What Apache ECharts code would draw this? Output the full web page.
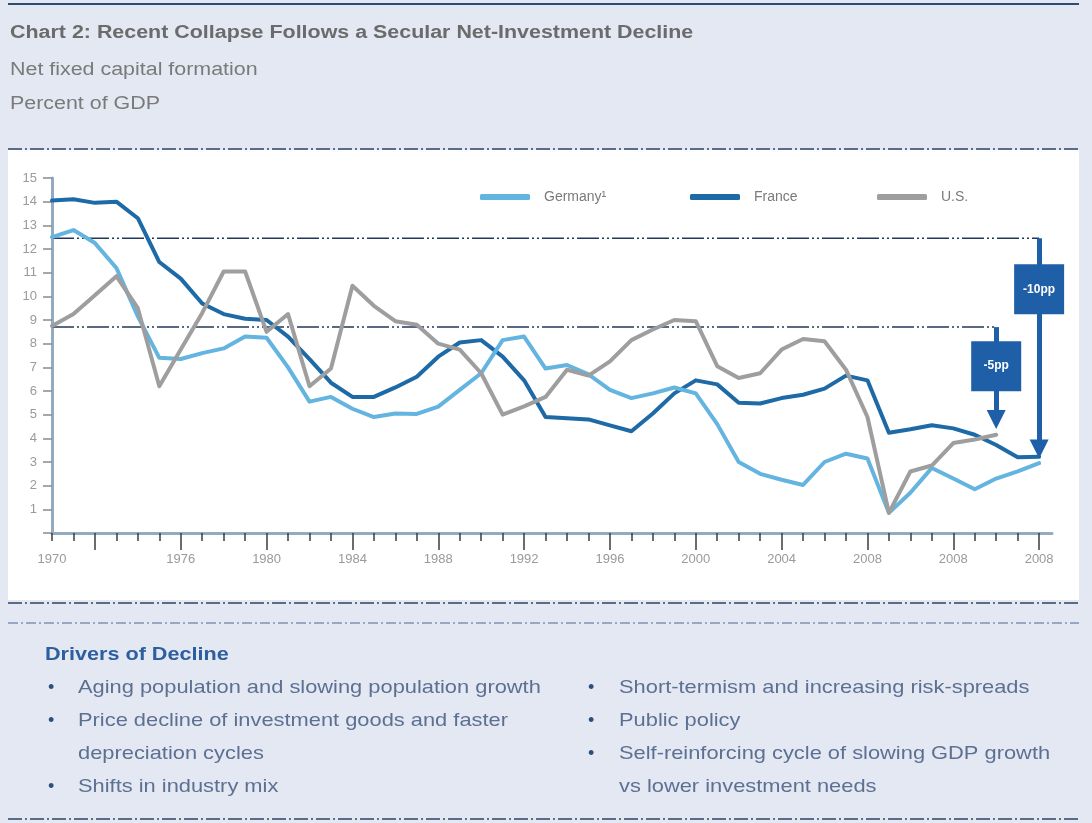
<!DOCTYPE html>
<html>
<head>
<meta charset="utf-8">
<script src="https://cdn.jsdelivr.net/npm/echarts/dist/echarts.min.js"></script>
<style>
html,body{margin:0;padding:0;background:#e4e8f3;}
#chart{width:1092px;height:823px;}
</style>
</head>
<body>
<div id="chart"></div>
<script>
// ---------- data ----------
const years = [1970,1971,1972,1973,1974,1975,1976,1977,1978,1979,
               1980,1981,1982,1983,1984,1985,1986,1987,1988,1989,
               1990,1991,1992,1993,1994,1995,1996,1997,1998,1999,
               2000,2001,2002,2003,2004,2005,2006,2007,2008,2009,
               2010,2011,2012,2013,2014,2015,2016];
const germany = [12.5,12.8,12.25,11.2,9.15,7.4,7.35,7.6,7.8,8.3,
                 8.25,7.0,5.55,5.75,5.25,4.9,5.05,5.03,5.34,6.05,
                 6.75,8.15,8.3,6.95,7.1,6.7,6.05,5.7,5.9,6.15,
                 5.9,4.6,3.0,2.5,2.25,2.03,3.0,3.35,3.15,0.85,
                 1.7,2.75,2.3,1.85,2.3,2.6,2.95];
const france = [14.05,14.1,13.95,14.0,13.3,11.45,10.75,9.7,9.25,9.05,
                9.0,8.3,7.35,6.35,5.75,5.75,6.15,6.6,7.45,8.05,
                8.15,7.45,6.45,4.9,4.85,4.8,4.55,4.3,5.05,5.9,
                6.45,6.28,5.5,5.47,5.7,5.84,6.1,6.65,6.45,4.24,
                4.38,4.55,4.42,4.15,3.72,3.2,3.22];
const us = [8.75,9.25,10.05,10.85,9.5,6.2,7.75,9.3,11.05,11.05,
            8.5,9.25,6.2,6.95,10.45,9.6,8.95,8.8,8.0,7.75,
            6.75,5.0,5.35,5.75,6.9,6.65,7.25,8.15,8.6,9.0,
            8.95,7.05,6.55,6.75,7.75,8.2,8.1,6.9,4.9,0.85,
            2.6,2.85,3.8,3.95,4.15];
const seriesNames = ['Germany\u00B9','France','U.S.'];

// x-axis tick/label years (labels as printed in the original)
const labelYears = [1970,1976,1980,1984,1988,1992,1996,2000,2004,2008,2012,2016];
const labelTexts = ['1970','1976','1980','1984','1988','1992','1996','2000','2004','2008','2008','2008'];
const longTickYears = [1972,1976,1980,1984,1988,1992,1996,2000,2004,2008,2012,2016];

// reference levels and change annotations
const refLevels = [12.45, 8.7];
const refStart = [1970, 1970];
const refEnd = [2016, 2014];
const arrowTips = [3.55, 4.8];
const boxCenters = [10.3, 7.05];
const boxLabels = ['-10pp', '-5pp'];

// text blocks
const titleText = 'Chart 2: Recent Collapse Follows a Secular Net-Investment Decline';
const subtitleLines = ['Net fixed capital formation', 'Percent of GDP'];
const driversTitle = 'Drivers of Decline';
const leftBullets = [['Aging population and slowing population growth'],
                     ['Price decline of investment goods and faster', 'depreciation cycles'],
                     ['Shifts in industry mix']];
const rightBullets = [['Short-termism and increasing risk-spreads'],
                      ['Public policy'],
                      ['Self-reinforcing cycle of slowing GDP growth', 'vs lower investment needs']];

// ---------- chart ----------
const pair = (vals) => vals.map((v, i) => [years[i], v]);
const C = {germany:'#64b4e0', france:'#1d6aa6', us:'#9e9e9e', annot:'#1f5fa8', ref:'#22385a'};
const font = 'Liberation Sans, Arial, Helvetica, sans-serif';

const chart = echarts.init(document.getElementById('chart'), null, {renderer:'canvas'});

const refSeries = refLevels.map((lv, i) => ({
  type:'line', xAxisIndex:0, yAxisIndex:0, silent:true, showSymbol:false, z:3,
  data:[[refStart[i], lv],[refEnd[i], lv]],
  lineStyle:{color:C.ref, width:1.5, type:[22,3,2,3,2,3]},
  markLine:{
    silent:true, symbol:['none','triangle'], symbolSize:19, z:6,
    lineStyle:{color:C.annot, width:5, type:'solid'},
    label:{show:false},
    data:[[{coord:[refEnd[i], lv]},{coord:[refEnd[i], arrowTips[i]]}]]
  },
  markPoint:{
    silent:true, symbol:'rect', symbolSize:[50,50], z:7,
    itemStyle:{color:C.annot},
    label:{show:true, position:'inside', color:'#fff', fontWeight:'bold', fontSize:12,
           fontFamily:font, formatter: boxLabels[i]},
    data:[{coord:[refEnd[i], boxCenters[i]], value:boxLabels[i]}]
  }
}));

const lineStyleBase = {width:4, cap:'round', join:'round'};

function txt(x, y, text, fill, fnt, sx) {
  return {type:'text', z:5, x:x, y:y, scaleX:sx || 1,
          style:{x:0, y:0, text:text, fill:fill, font:fnt, textVerticalAlign:'middle'}};
}

const graphics = [
  {type:'rect', z:-10, shape:{x:8, y:150, width:1071, height:450}, style:{fill:'#ffffff'}},
  {type:'line', z:5, shape:{x1:8, y1:4, x2:1079, y2:4}, style:{stroke:'#2f4c72', lineWidth:2}},
  {type:'line', z:5, shape:{x1:8, y1:149, x2:1079, y2:149}, style:{stroke:'#2a4466', lineWidth:1.5, lineDash:[14,3,2,3]}},
  {type:'line', z:5, shape:{x1:8, y1:603, x2:1079, y2:603}, style:{stroke:'#2a4466', lineWidth:1.5, lineDash:[14,3,2,3]}},
  {type:'line', z:5, shape:{x1:8, y1:623, x2:1079, y2:623}, style:{stroke:'#7f93b0', lineWidth:1.5, lineDash:[10,3,2,3]}},
  {type:'line', z:5, shape:{x1:8, y1:819, x2:1079, y2:819}, style:{stroke:'#2a4466', lineWidth:1.5, lineDash:[14,3,2,3]}},
  txt(10, 33, titleText, '#6b6b6b', 'bold 18px ' + font, 1.19),
  txt(10, 70, subtitleLines[0], '#7a7a7a', '18px ' + font, 1.19),
  txt(10, 104, subtitleLines[1], '#7a7a7a', '18px ' + font, 1.19),
  txt(45, 655, driversTitle, '#2d5f9f', 'bold 18px ' + font, 1.2)
];
const lineYs = [688, 721, 754, 787];
function addColumn(bullets, bx, tx) {
  let row = 0;
  bullets.forEach(lines => {
    graphics.push(txt(bx, lineYs[row], '\u2022', '#2d4f7f', '18px ' + font, 1));
    lines.forEach(l => {
      graphics.push(txt(tx, lineYs[row], l, '#5c7092', '19px ' + font, 1.15));
      row++;
    });
  });
}
addColumn(leftBullets, 48, 78);
addColumn(rightBullets, 588, 619);

const legendBase = {padding:0, icon:'roundRect', itemWidth:50, itemHeight:6, selectedMode:false,
                    textStyle:{color:'#7a7a7a', fontSize:14, padding:[0,0,0,9]}};

const option = {
  backgroundColor:'#e4e8f3',
  animation:false,
  textStyle:{fontFamily:font},
  grid:{left:52, top:178, width:1000, height:355, containLabel:false},
  xAxis:[
    {type:'value', min:1970, max:2016.6, position:'bottom',
     axisLine:{show:true, onZero:false, lineStyle:{color:'#93abc0', width:3}},
     axisTick:{show:true, customValues:longTickYears, length:17, lineStyle:{color:'#3d3d3d', width:1.5}},
     axisLabel:{show:true, customValues:labelYears, margin:20, color:'#9a9a9a', fontSize:13,
                formatter:(v)=>{const k=labelYears.indexOf(Math.round(v)); return k>=0?labelTexts[k]:'';}},
     splitLine:{show:false}},
    {type:'value', min:1970, max:2016.6, position:'bottom', gridIndex:0,
     axisLine:{show:false, onZero:false},
     axisTick:{show:true, customValues:years, length:8, lineStyle:{color:'#3d3d3d', width:1.5}},
     axisLabel:{show:false}, splitLine:{show:false}}
  ],
  yAxis:{type:'value', min:0, max:15, interval:1,
     axisLine:{show:true, lineStyle:{color:'#93abc0', width:3}},
     axisTick:{show:true, length:9, lineStyle:{color:'#8a8a8a', width:1.5}},
     axisLabel:{margin:15, color:'#9a9a9a', fontSize:13, formatter:(v)=> v===0?'':String(v)},
     splitLine:{show:false}},
  legend:[
    Object.assign({data:[seriesNames[0]], left:480, top:190}, legendBase),
    Object.assign({data:[seriesNames[1]], left:690, top:190}, legendBase),
    Object.assign({data:[seriesNames[2]], left:877, top:190}, legendBase)
  ],
  series:[
    {name:seriesNames[1], type:'line', data:pair(france), showSymbol:false, color:C.france,
     lineStyle:Object.assign({color:C.france}, lineStyleBase), z:4},
    {name:seriesNames[0], type:'line', data:pair(germany), showSymbol:false, color:C.germany,
     lineStyle:Object.assign({color:C.germany}, lineStyleBase), z:4},
    {name:seriesNames[2], type:'line', data:pair(us), showSymbol:false, color:C.us,
     lineStyle:Object.assign({color:C.us}, lineStyleBase), z:4}
  ].concat(refSeries),
  graphic:graphics
};
chart.setOption(option);
</script>
</body>
</html>
